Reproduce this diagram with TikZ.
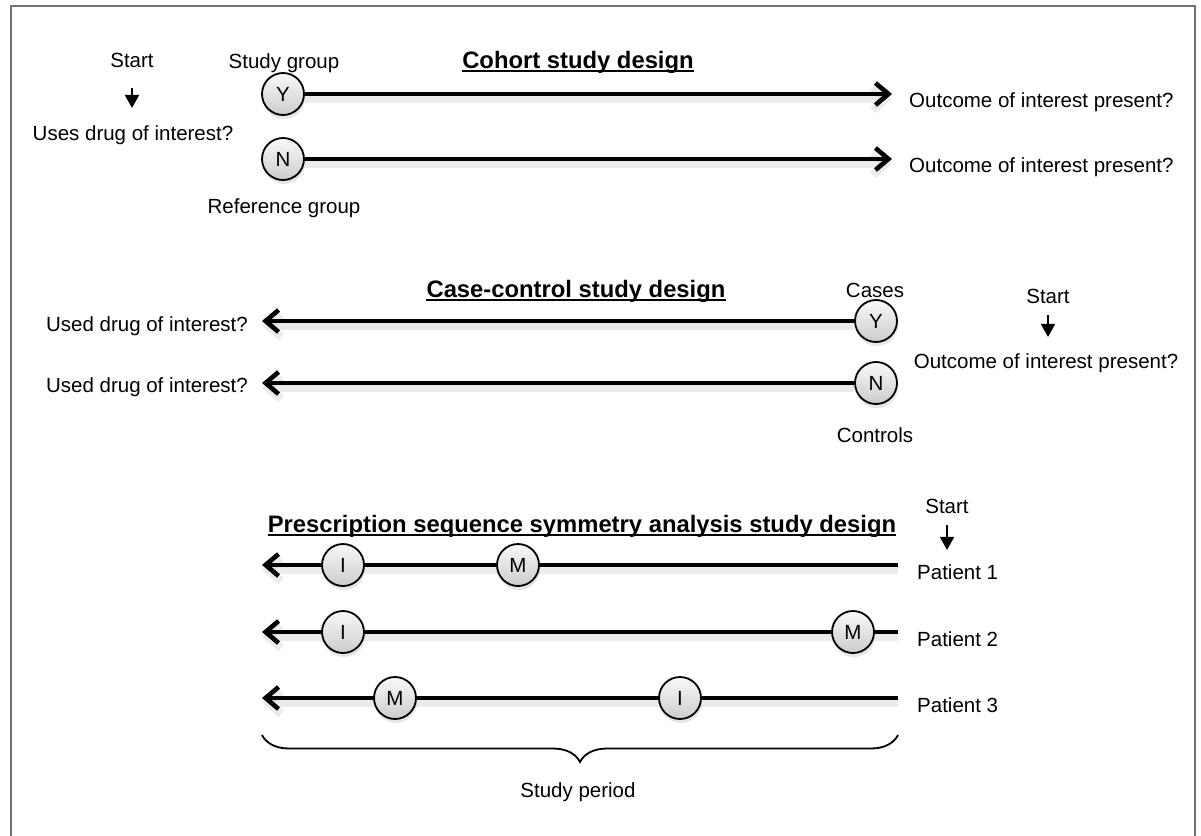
\documentclass[tikz,border=0pt]{standalone}
\usepackage{fontspec}
\setmainfont{Liberation Sans}
\usetikzlibrary{arrows.meta, shadows, decorations.pathreplacing}

\tikzset{
  txt/.style={font=\fontsize{20.5}{24}\selectfont, inner sep=0pt, anchor=base},
  title/.style={font=\fontsize{23.8}{28}\selectfont\bfseries, inner sep=0pt, anchor=base},
  group/.style={circle, draw, line width=1.8pt, minimum size=42pt, inner sep=0pt,
    top color=gray!5, bottom color=gray!40, font=\fontsize{20.5}{24}\selectfont,
    drop shadow={opacity=0.2, shadow xshift=1pt, shadow yshift=-4pt}},
  timeline/.style={line width=4.6pt, -{Straight Barb[length=13pt, width=22pt]},
    preaction={draw=black, opacity=0.08, line width=8pt, transform canvas={yshift=-5pt}}},
  startarrow/.style={line width=1.8pt, -{Triangle[length=13pt, width=14pt]}},
}

\begin{document}
\begin{tikzpicture}[x=1pt, y=-1pt]
    \useasboundingbox (0,0) rectangle (1201,835);
    % frame
    \draw[gray!90!black, line width=1.6pt] (11,840) -- (11,6) -- (1195,6) -- (1195,840);
    % Cohort study design
    \node[title] (cohT) at (578,68) {Cohort study design};
    \node[txt] (cohStart) at (132,67) {Start};
    \node[txt] (usesDrug) at (133,140) {Uses drug of interest?};
    \draw[startarrow, shorten <=21pt, shorten >=17pt]
        (cohStart.south) -- (cohStart.south |- usesDrug.north);
    \node[txt] (studyGrp) at (284,68) {Study group};
    \node[group] (cohY) at (283,94) {Y};
    \node[group] (cohN) at (283,159) {N};
    \node[txt] (refGrp) at (284,213) {Reference group};
    \node[txt, anchor=base west] (outY) at (909,107) {Outcome of interest present?};
    \node[txt, anchor=base west] (outN) at (909,172) {Outcome of interest present?};
    \draw[timeline, shorten >=17pt] (cohY) -- (cohY -| outY.west);
    \draw[timeline, shorten >=17pt] (cohN) -- (cohN -| outN.west);
    % Case-control study design
    \node[title] (ccT) at (576,297) {Case-control study design};
    \node[txt] (cases) at (875,297) {Cases};
    \node[group] (ccY) at (876,321) {Y};
    \node[group] (ccN) at (876,383) {N};
    \node[txt] (controls) at (875,442) {Controls};
    \node[txt] (ccStart) at (1048,303) {Start};
    \node[txt] (ccOut) at (1046,368) {Outcome of interest present?};
    \draw[startarrow, shorten <=12pt, shorten >=16pt]
        (ccStart.south) -- (ccStart.south |- ccOut.north);
    \node[txt, anchor=base east] (usedY) at (248,331) {Used drug of interest?};
    \node[txt, anchor=base east] (usedN) at (248,392) {Used drug of interest?};
    \draw[timeline, shorten >=14pt] (ccY) -- (ccY -| usedY.east);
    \draw[timeline, shorten >=14pt] (ccN) -- (ccN -| usedN.east);
    % Prescription sequence symmetry analysis
    \node[title] (psT) at (582,532) {Prescription sequence symmetry analysis study design};
    \node[txt] (psStart) at (947,513) {Start};
    \foreach \n/\y in {1/565, 2/632, 3/698} {
        \coordinate (r\n) at (898,\y);
        \coordinate (l\n) at (262,\y);
        \node[txt, anchor=base west] (pat\n) at (917,\y+14) {Patient \n};
        \draw[timeline] (r\n) -- (l\n);
    }
    \draw[startarrow, shorten <=12pt, shorten >=14pt]
        (psStart.south) -- (psStart.south |- pat1.north);
    \node[group] (i1) at (343,565) {I};
    \node[group] (m1) at (518,565) {M};
    \node[group] (i2) at (343,632) {I};
    \node[group] (m2) at (853,632) {M};
    \node[group] (m3) at (395,698) {M};
    \node[group] (i3) at (680,698) {I};
    % underlines of the titles
    \foreach \t in {cohT, ccT, psT}
        \draw[line width=1.6pt] ([yshift=-3pt]\t.base west) -- ([yshift=-3pt]\t.base east);
    % Study period
    \coordinate (brL) at (262,735);
    \coordinate (brR) at (898,735);
    \draw[decorate, decoration={brace, mirror, amplitude=27pt}, line width=1.8pt] (brL) -- (brR);
    \node[txt] (period) at (578,797) {Study period};
\end{tikzpicture}
\end{document}
